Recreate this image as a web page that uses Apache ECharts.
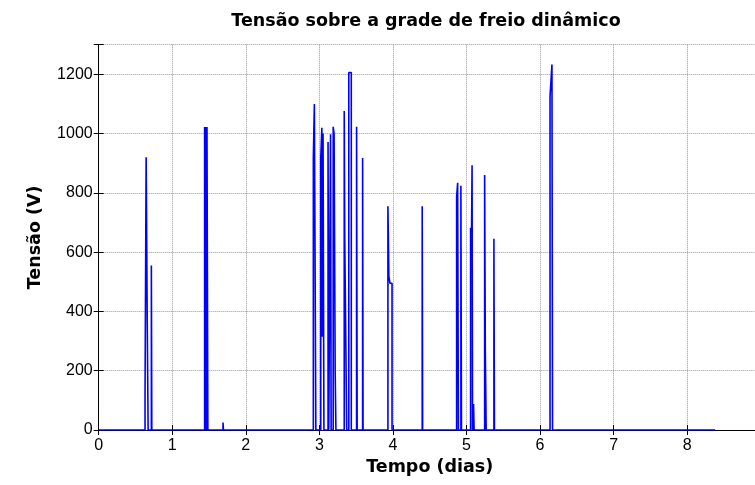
<!DOCTYPE html>
<html>
<head>
<meta charset="utf-8">
<script src="https://cdn.jsdelivr.net/npm/echarts@6/dist/echarts.min.js"></script>
<style>html,body{margin:0;padding:0;background:#fff}#c{width:755px;height:485px}</style>
</head>
<body>
<div id="c"></div>
<script>
const chartTitle = 'Tensão sobre a grade de freio dinâmico';
const xName = 'Tempo (dias)';
const yName = 'Tensão (V)';
const xTicks = [0, 1, 2, 3, 4, 5, 6, 7, 8];
const yTicks = [0, 200, 400, 600, 800, 1000, 1200];

// time (days) of each polyline vertex
const tempo = [
  0, 0.630, 0.630, 0.645, 0.645, 0.660, 0.660, 0.672, 0.672,
  0.716, 0.716, 0.722, 0.722,
  1.440, 1.440, 1.450, 1.450, 1.456, 1.456, 1.466, 1.466, 1.472, 1.472, 1.484, 1.484,
  1.690, 1.690, 1.696, 1.696,
  2.918, 2.918, 2.932, 2.932, 2.952, 2.952,
  3.019, 3.019, 3.034, 3.034, 3.040, 3.040, 3.050, 3.050, 3.062, 3.062,
  3.118, 3.118, 3.128, 3.128,
  3.152, 3.152, 3.160, 3.160,
  3.188, 3.188, 3.200, 3.200, 3.215, 3.215, 3.225, 3.225,
  3.338, 3.338, 3.345, 3.345, 3.372, 3.372,
  3.400, 3.400, 3.434, 3.434,
  3.506, 3.506, 3.514, 3.514,
  3.588, 3.588, 3.594, 3.594,
  3.932, 3.932, 3.945, 3.945, 3.960, 3.960, 3.988, 3.988,
  4.398, 4.398, 4.404, 4.404,
  4.866, 4.866, 4.880, 4.880, 4.890, 4.890,
  4.924, 4.924, 4.932, 4.932,
  5.056, 5.056, 5.066, 5.066, 5.076, 5.076, 5.082, 5.082,
  5.096, 5.096, 5.104, 5.104,
  5.247, 5.247, 5.256, 5.256, 5.268, 5.268,
  5.373, 5.373, 5.380, 5.380,
  6.136, 6.136, 6.162, 6.162, 6.170, 6.170,
  8.380
];
// voltage (V) of each polyline vertex
const tensao = [
  0, 0, 120, 120, 920, 920, 365, 365, 0,
  0, 555, 555, 0,
  0, 1022, 1022, 0, 0, 1022, 1022, 0, 0, 1022, 1022, 0,
  0, 25, 25, 0,
  0, 918, 918, 1100, 1100, 0,
  0, 918, 918, 1020, 1020, 315, 315, 1000, 1000, 0,
  0, 972, 972, 0,
  0, 998, 998, 0,
  0, 1023, 1023, 1000, 1000, 192, 192, 0,
  0, 1076, 1076, 645, 645, 0,
  0, 1206, 1206, 0,
  0, 1023, 1023, 0,
  0, 918, 918, 0,
  0, 755, 755, 518, 518, 495, 495, 0,
  0, 755, 755, 0,
  0, 787, 787, 834, 834, 0,
  0, 824, 824, 0,
  0, 682, 682, 577, 577, 893, 893, 0,
  0, 88, 88, 0,
  0, 860, 860, 270, 270, 0,
  0, 645, 645, 0,
  0, 1126, 1126, 1233, 1233, 0,
  0
];

const seriesData = tempo.map((t, i) => [t, tensao[i]]);
const FONT = 'Liberation Sans, Arial, sans-serif';
const BFONT = 'DejaVu Sans, sans-serif';

const chart = echarts.init(document.getElementById('c'), null, {renderer: 'canvas'});
chart.setOption({
  animation: false,
  backgroundColor: '#ffffff',
  title: {
    text: chartTitle,
    left: 421, top: 7, textAlign: 'center',
    textStyle: {fontFamily: BFONT, fontSize: 17.5, fontWeight: 'bold', color: '#000'}
  },
  grid: {left: 98.7, top: 44.7, height: 385.3, width: 662, containLabel: false,
    outerBoundsMode: 'none'},
  xAxis: [{
    type: 'value', min: 0, max: 9, interval: 1,
    name: xName, nameLocation: 'middle', nameGap: 27,
    nameTextStyle: {fontFamily: BFONT, fontSize: 17.5, fontWeight: 'bold', color: '#000'},
    axisLine: {show: true, onZero: false, lineStyle: {color: '#000', width: 1}},
    axisTick: {show: true, inside: true, length: 5, lineStyle: {color: '#000'}},
    axisLabel: {fontFamily: FONT, fontSize: 16, color: '#000', margin: 8,
      formatter: v => xTicks.indexOf(v) >= 0 ? String(v) : ''},
    splitLine: {show: true, lineStyle: {color: '#9a9a9a', type: [1, 1], width: 1}}
  }, {
    type: 'value', min: 0, max: 9, interval: 1, position: 'top',
    axisLine: {show: true, lineStyle: {color: '#000', width: 1}},
    axisTick: {show: true, inside: true, length: 5, lineStyle: {color: '#000'}},
    axisLabel: {show: false}, splitLine: {show: false}
  }],
  yAxis: [{
    type: 'value', min: 0, max: 1300, interval: 200,
    name: yName, nameLocation: 'middle', nameGap: 54, nameRotate: 90,
    nameTextStyle: {fontFamily: BFONT, fontSize: 17.5, fontWeight: 'bold', color: '#000'},
    axisLine: {show: true, lineStyle: {color: '#000', width: 1}},
    axisTick: {show: true, inside: true, length: 5, lineStyle: {color: '#000'}},
    axisLabel: {fontFamily: FONT, fontSize: 16, color: '#000', margin: 6,
      formatter: v => yTicks.indexOf(v) >= 0 ? String(v) : ''},
    splitLine: {show: true, lineStyle: {color: '#9a9a9a', type: [1, 1], width: 1}}
  }, {
    type: 'value', min: 0, max: 1300, interval: 200, position: 'right',
    axisLine: {show: true, lineStyle: {color: '#000', width: 1}},
    axisTick: {show: true, inside: true, length: 5, lineStyle: {color: '#000'}},
    axisLabel: {show: false}, splitLine: {show: false}
  }],
  series: [{
    type: 'line', xAxisIndex: 0, yAxisIndex: 0,
    data: seriesData, showSymbol: false, symbol: 'none',
    lineStyle: {color: '#0000ff', width: 1.6},
    z: 5
  }]
});
</script>
</body>
</html>
